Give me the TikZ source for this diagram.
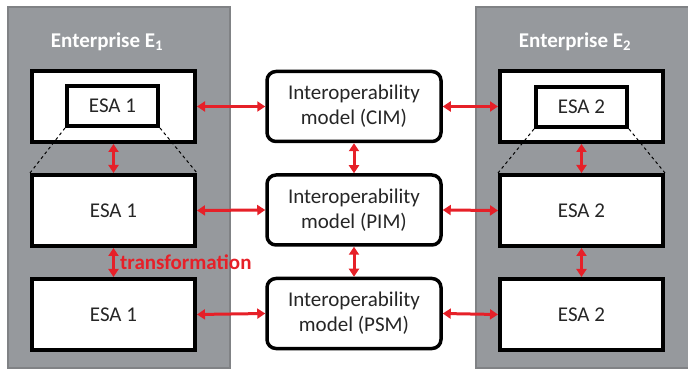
\documentclass[tikz,border=0pt]{standalone}
\usepackage{fontspec}
\setmainfont{Carlito}
\usetikzlibrary{arrows.meta}
\definecolor{panelgray}{RGB}{150,153,157}
\definecolor{linkred}{RGB}{230,32,40}
\definecolor{txtgray}{RGB}{38,38,38}

\begin{document}
\begin{tikzpicture}[x=1pt,y=-1pt,
  panel/.style={draw=panelgray!85!black,line width=1.5pt,fill=panelgray,minimum width=222pt,minimum height=361pt,inner sep=0pt},
  title/.style={text=white,font=\fontsize{21}{25}\selectfont\bfseries},
  esabox/.style={draw,line width=4pt,fill=white,minimum width=163pt,minimum height=71pt,inner sep=0pt,text=txtgray,font=\fontsize{21}{25}\selectfont},
  esainner/.style={esabox,minimum width=91pt,minimum height=40pt},
  model/.style={draw,line width=3.5pt,fill=white,rounded corners=9pt,minimum width=174pt,minimum height=70pt,inner sep=0pt,align=center,text=txtgray,font=\fontsize{21}{25}\selectfont},
  link/.style={draw=linkred,line width=3pt,{Triangle[length=8pt,width=10pt]}-{Triangle[length=8pt,width=10pt]}}
]

\useasboundingbox (0,0) rectangle (688,371);

\node[panel] (e1) at (119,187.5) {};
\node[panel,minimum width=224pt] (e2) at (588,187.5) {};
\node[title] (e1title) at (107,42) {Enterprise E\textsubscript{1}};
\node[title] (e2title) at (575,42) {Enterprise E\textsubscript{2}};

\node[esabox] (esa1cim) at (113.5,106.5) {};
\node[esainner] (esa1in) at (112.5,106) {ESA 1};
\node[esabox] (esa1pim) at (113.5,210.5) {ESA 1};
\node[esabox] (esa1psm) at (113.5,314.5) {ESA 1};

\node[esabox] (esa2cim) at (581.5,106.5) {};
\node[esainner] (esa2in) at (581.5,107) {ESA 2};
\node[esabox] (esa2pim) at (581.5,210.5) {ESA 2};
\node[esabox] (esa2psm) at (581.5,314.5) {ESA 2};

\node[model] (cim) at (354,106.5) {Interoperability\\model (CIM)};
\node[model] (pim) at (354,210) {Interoperability\\model (PIM)};
\node[model] (psm) at (354,313.5) {Interoperability\\model (PSM)};

\draw[dashed,line width=1pt] (esa1in.south west) -- (esa1pim.north west);
\draw[dashed,line width=1pt] (esa1in.south east) -- (esa1pim.north east);
\draw[dashed,line width=1pt] (esa2in.south west) -- (esa2pim.north west);
\draw[dashed,line width=1pt] (esa2in.south east) -- (esa2pim.north east);

\draw[link] (esa1cim.east) -- (cim.west);
\draw[link] (esa1pim.east) -- (pim.west);
\draw[link] (esa1psm.east) -- (psm.west);
\draw[link] (cim.east) -- (esa2cim.west);
\draw[link] (pim.east) -- (esa2pim.west);
\draw[link] (psm.east) -- (esa2psm.west);

\draw[link] (esa1cim.south) -- (esa1pim.north);
\draw[link] (esa1pim.south) -- (esa1psm.north);
\draw[link] (esa2cim.south) -- (esa2pim.north);
\draw[link] (esa2pim.south) -- (esa2psm.north);
\draw[link] (cim.south) -- (pim.north);
\draw[link] (pim.south) -- (psm.north);

\node[anchor=west,text=linkred,font=\fontsize{21}{25}\selectfont\bfseries,inner sep=0pt] (trans) at (120,262) {transformation};

\end{tikzpicture}
\end{document}
